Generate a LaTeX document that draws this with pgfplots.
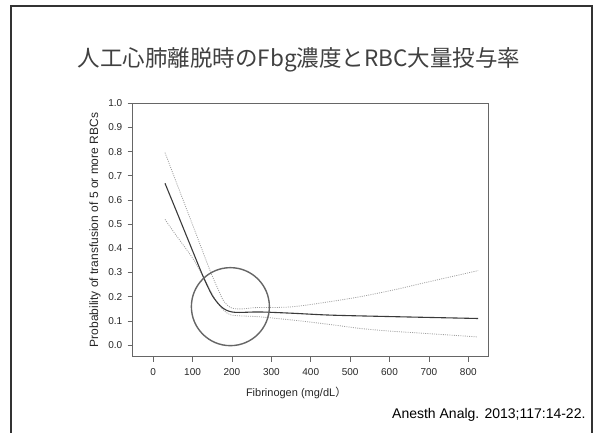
\documentclass[border=0pt]{standalone}
\usepackage{fontspec}
\setmainfont{Liberation Sans}
\newfontfamily\cjk{Noto Sans CJK JP}
\usepackage{pgfplots}
\pgfplotsset{compat=1.18}
\definecolor{axgray}{HTML}{666666}
\definecolor{linegray}{HTML}{3A3A3A}
\definecolor{cigray}{HTML}{A0A0A0}
\definecolor{framegray}{HTML}{333333}
\definecolor{titlegray}{HTML}{404040}
\begin{document}
\begin{tikzpicture}[x=1pt,y=1pt]
\path[use as bounding box] (0,0) rectangle (598,432);
\draw[framegray, line width=2pt] (11,-2) -- (11,425.5) -- (592,425.5) -- (592,-2);
\node[titlegray, font=\cjk\fontsize{22.5}{26}\selectfont] at (299,372) {人工心肺離脱時のFbg濃度とRBC大量投与率};
\node[anchor=base east, font=\fontsize{14}{16}\selectfont, black] at (589,14) {Anesth Analg. 2013;117:14-22.};
\begin{axis}[
  at={(132.7pt,75.3pt)}, anchor=south west,
  scale only axis, width=355.3pt, height=253.4pt,
  xmin=-52, xmax=850, ymin=-0.048, ymax=1.0,
  xtick={0,100,200,300,400,500,600,700,800},
  ytick={0,0.1,0.2,0.3,0.4,0.5,0.6,0.7,0.8,0.9,1.0},
  /pgf/number format/assume math mode=true,
  yticklabel style={/pgf/number format/fixed, /pgf/number format/fixed zerofill, /pgf/number format/precision=1, xshift=-2pt},
  xticklabel style={/pgf/number format/fixed, /pgf/number format/precision=0, yshift=-3pt},
  scaled y ticks=false,
  tick align=outside, major tick length=5pt, tick pos=left,
  axis line style={draw=axgray, line width=1pt},
  tick style={axgray, line width=0.8pt},
  ticklabel style={font=\fontsize{10}{12}\selectfont, text=black!85},
  xlabel={Fibrinogen (mg/dL{\cjk ）}},
  ylabel={Probability of transfusion of 5 or more RBCs},
  xlabel style={font=\fontsize{11}{13}\selectfont, text=black!85, at={(axis description cs:0.46,0)}, anchor=center, yshift=-36.5pt},
  ylabel style={font=\fontsize{12}{14}\selectfont, text=black!85, at={(axis description cs:-0.106,0.5)}, anchor=center},
  clip=false,
]
\addplot[cigray, line width=0.8pt, dash pattern=on 1pt off 1.2pt, smooth] coordinates {
(30,0.796) (60,0.668) (100,0.498) (144,0.31) (165,0.23) (180,0.18) (200,0.153) (230,0.150) (260,0.155) (350,0.158) (450,0.18) (525,0.20) (610,0.228) (700,0.262) (825,0.308)};
\addplot[cigray, line width=0.8pt, dash pattern=on 1pt off 1.2pt, smooth] coordinates {
(30,0.52) (60,0.45) (100,0.36) (130,0.275) (150,0.21) (170,0.16) (190,0.13) (210,0.122) (270,0.117) (356,0.103) (450,0.085) (525,0.069) (600,0.058) (694,0.048) (821,0.034)};
\addplot[linegray, line width=1.1pt, smooth] coordinates {
(30,0.669) (60,0.55) (90,0.43) (127,0.283) (150,0.205) (170,0.163) (185,0.145) (200,0.137) (220,0.135) (270,0.137) (350,0.132) (450,0.124) (600,0.118) (825,0.110)};
\draw[axgray, line width=1.4pt] (axis cs:196,0.159) circle[radius=39pt];
\end{axis}
\end{tikzpicture}
\end{document}
